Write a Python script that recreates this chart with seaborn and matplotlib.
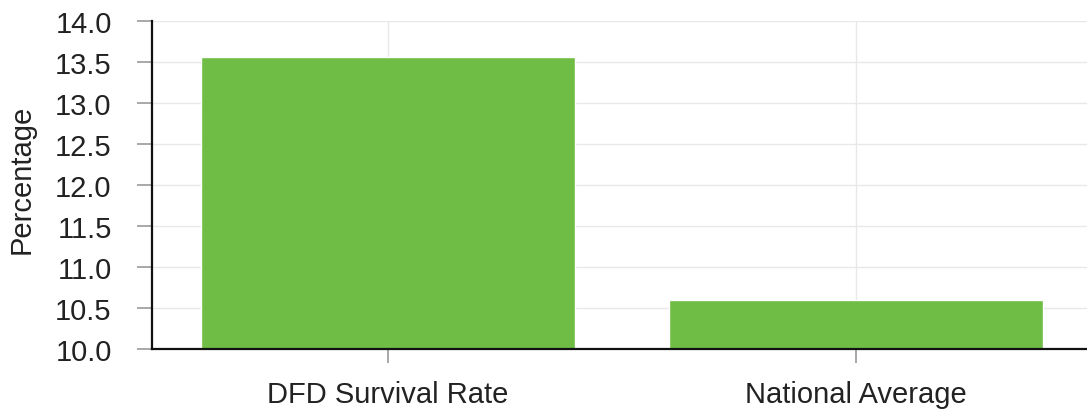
import matplotlib
matplotlib.use("Agg")
import matplotlib.pyplot as plt
import seaborn as sns
import pandas as pd

categories = ["DFD Survival Rate", "National Average"]
values = [13.56, 10.6]
y_ticks = [10.0, 10.5, 11.0, 11.5, 12.0, 12.5, 13.0, 13.5, 14.0]

sns.set_theme(style="white")
plt.rcParams["font.family"] = ["Liberation Sans", "DejaVu Sans"]

df = pd.DataFrame({"category": categories, "value": values})

fig = plt.figure(figsize=(10.87, 4.14), dpi=100)
ax = fig.add_axes([0.1398, 0.1546, 0.8602, 0.7923])

sns.barplot(data=df, x="category", y="value", color="#6fbd44", saturation=1,
            width=0.8, ax=ax, zorder=2)

ax.set_ylim(10.0, 14.0)
ax.set_xlim(-0.505, 1.495)
ax.set_yticks(y_ticks)
ax.set_yticklabels([f"{t:.1f}" for t in y_ticks])

ax.grid(True, axis="both", color="#e8e8e8", linewidth=1.0, zorder=0)
ax.set_axisbelow(True)

for side in ("top", "right"):
    ax.spines[side].set_visible(False)
for side in ("left", "bottom"):
    ax.spines[side].set_color("#111111")
    ax.spines[side].set_linewidth(1.6)
    ax.spines[side].set_zorder(3)

ax.tick_params(axis="y", which="major", length=11, width=1.2, color="#9a9a9a",
               pad=18, labelsize=21, labelcolor="#222222", left=True)
ax.tick_params(axis="x", which="major", length=10, width=1.2, color="#9a9a9a",
               pad=12, labelsize=21, labelcolor="#222222", bottom=True)

ax.set_xlabel("")
ax.set_ylabel("Percentage", fontsize=21, color="#222222", labelpad=14)
ax.yaxis.label.set_y(0.52)

fig.savefig("out.png", dpi=100)
